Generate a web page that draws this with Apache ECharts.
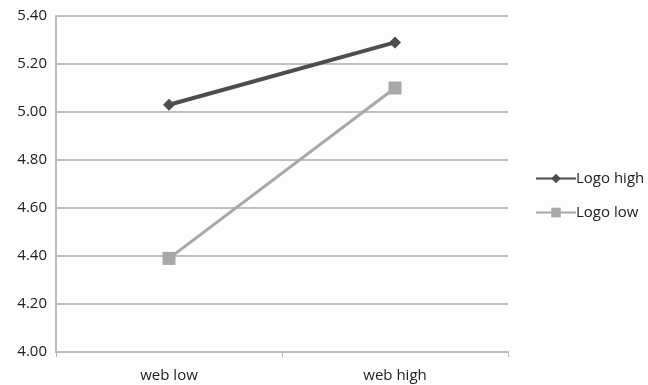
<!DOCTYPE html>
<html><head><meta charset="utf-8">
<script src="https://cdn.jsdelivr.net/npm/echarts@6/dist/echarts.min.js"></script>
<style>html,body{margin:0;padding:0;background:#fff}#c{width:648px;height:385px}</style>
</head><body><div id="c"></div>
<script>
const categories = ["web low", "web high"];
const logoHigh = [5.03, 5.29];
const logoLow = [4.39, 5.10];
const seriesNames = ["Logo high", "Logo low"];

const chart = echarts.init(document.getElementById('c'));
chart.setOption({
  animation: false,
  backgroundColor: '#fdfdfd',
  grid: {left: 56, right: 140, top: 16, bottom: 33},
  legend: {
    orient: 'vertical', left: 530, top: 166, itemGap: 19, itemWidth: 40, itemHeight: 12,
    textStyle: {fontFamily: 'Open Sans', fontSize: 15, color: '#222', padding: [0,0,0,-5]},
    data: seriesNames
  },
  xAxis: {
    type: 'category', data: categories, boundaryGap: true,
    axisLine: {lineStyle: {color: '#bbb', width: 2}},
    axisTick: {show: true, length: 5, lineStyle: {color: '#bbb', width: 1}},
    axisLabel: {fontFamily: 'Open Sans', fontSize: 15, color: '#222', margin: 16}
  },
  yAxis: {
    type: 'value', min: 4.0, max: 5.4, interval: 0.2,
    axisLine: {show: true, lineStyle: {color: '#bbb', width: 2}},
    axisTick: {show: false},
    splitLine: {lineStyle: {color: '#bdbdbd', width: 2}},
    axisLabel: {fontFamily: 'Open Sans', fontSize: 15, color: '#222', margin: 9,
      formatter: v => v.toFixed(2)}
  },
  series: [
    {name: seriesNames[0], type: 'line', data: logoHigh, symbol: 'diamond', symbolSize: 12,
     lineStyle: {color: '#4d4d4d', width: 4}, itemStyle: {color: '#4d4d4d'}},
    {name: seriesNames[1], type: 'line', data: logoLow, symbol: 'rect', symbolSize: 13,
     lineStyle: {color: '#a8a8a8', width: 3}, itemStyle: {color: '#a8a8a8'}}
  ]
});
</script></body></html>
